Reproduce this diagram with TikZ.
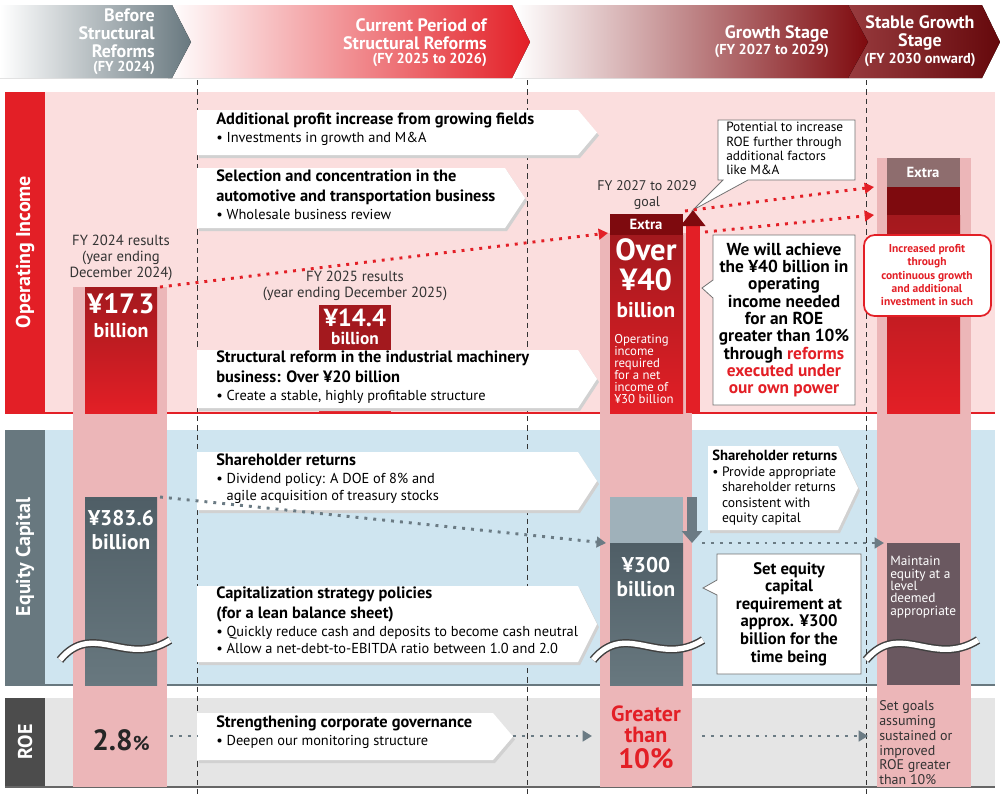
\documentclass[tikz,border=0pt]{standalone}
\usepackage{fontspec}
\setmainfont{PT Sans}
\usetikzlibrary{arrows.meta,calc}
\definecolor{cred}{HTML}{E31F26}
\definecolor{cdark}{HTML}{A3191E}
\definecolor{cextra}{HTML}{7E0A0E}
\definecolor{cpinkbg}{HTML}{FBDEDE}
\definecolor{ccol}{HTML}{ECB6B8}
\definecolor{cblue}{HTML}{CFE5F0}
\definecolor{cslate}{HTML}{4F5E66}
\definecolor{cslate2}{HTML}{68787F}
\definecolor{clight}{HTML}{9FB1BA}
\definecolor{cmauve}{HTML}{6A5860}
\definecolor{carr}{HTML}{6B7B84}
\newcommand\bxttl{\bfseries\fontsize{12.3}{13.5}\selectfont}
\newcommand\bxsub{\mdseries\fontsize{10.8}{12}\selectfont}
\newcommand\tagbox[5]{% x1 y1 x2 y2 tip
  \fill[black!18] (#1+2,#2+3) -- (#3+2,#2+3) -- (#3+#5+2,{(#2+#4)/2+3}) -- (#3+2,#4+3) -- (#1+2,#4+3) -- cycle;
  \fill[white] (#1,#2) -- (#3,#2) -- (#3+#5,{(#2+#4)/2}) -- (#3,#4) -- (#1,#4) -- cycle;}
\begin{document}
\begin{tikzpicture}[x=0.75pt,y=-0.75pt,
  every node/.style={inner sep=0,align=left},
  hd/.style={text=white,font=\bfseries\fontsize{13.5}{13.5}\selectfont,align=right},
  hds/.style={font=\bfseries\fontsize{10.8}{11}\selectfont},
  big/.style={text=white,font=\bfseries\fontsize{14}{14}\selectfont,align=center},
  side/.style={text=white,rotate=90,font=\bfseries\fontsize{15}{15}\selectfont},
  note/.style={draw=black!55,fill=white,line width=.6pt},
  dotr/.style={cred,line width=2.2pt,dash pattern=on 2.2pt off 4.5pt,-{Triangle[length=7pt,width=8pt]}},
  dotg/.style={carr,line width=2.2pt,dash pattern=on 2.2pt off 4.5pt,-{Triangle[length=7pt,width=8pt]}},
  wave/.style={draw=black!75,line width=1.1pt,double=white,double distance=4pt}]
\useasboundingbox (0,0) rectangle (1000,794);
% header
\fill[left color=cextra!80!white,right color=cextra!80!black] (848,5) -- (982,5) -- (1000,42) -- (982,78) -- (848,78) -- (866,42) -- cycle;
\fill[left color=white,right color=cextra] (515,5) -- (848,5) -- (868,42) -- (848,78) -- (515,78) -- cycle;
\fill[left color=white,right color=cred] (168,5) -- (512,5) -- (530,42) -- (512,78) -- (168,78) -- cycle;
\fill[left color=white,right color=cslate2] (0,5) -- (172,5) -- (191,42) -- (172,78) -- (0,78) -- cycle;
\node[hd,anchor=east] (h1) at (155,33) {Before\\Structural\\Reforms};
\node[hds,text=white,anchor=east] (h1s) at (155,68) {(FY 2024)};
\node[hd,anchor=east] (h2) at (487,34) {Current Period of\\Structural Reforms};
\node[hds,text=white,anchor=east] (h2s) at (487,60) {(FY 2025 to 2026)};
\node[hd,anchor=east] (h3) at (829,34) {Growth Stage};
\node[hds,text=white,anchor=east] (h3s) at (829,51) {(FY 2027 to 2029)};
\node[hd,align=center] (h4) at (920,33) {Stable Growth\\Stage};
\node[hds,text=white] (h4s) at (920,60) {(FY 2030 onward)};
% bands
\fill[cpinkbg] (45,92) rectangle (995,413);
\fill[cred] (5,92) rectangle (45,413);
\draw[cred,line width=1.5pt] (5,413) -- (995,413);
\fill[cblue] (45,430) rectangle (995,685);
\fill[cslate2] (5,430) rectangle (45,685);
\draw[cslate2,line width=1.5pt] (5,685) -- (995,685);
\fill[black!10] (45,698) rectangle (995,787);
\fill[black!70] (5,698) rectangle (45,787);
\draw[black!60,line width=1.5pt] (5,787) -- (995,787);
\node[side] (lop) at (25,252) {Operating Income};
\node[side] (leq) at (25,557) {Equity Capital};
\node[side] (lroe) at (25,742) {ROE};
% columns
\fill[ccol] (73,287) rectangle (167,787);
\fill[ccol] (600,233) rectangle (692,787);
\fill[ccol] (877,158) rectangle (971,787);
\foreach \x in {197,527,866} \draw[black!80,dash pattern=on 4pt off 3pt,line width=.5pt] (\x,80) -- (\x,794);
% bars
\fill[top color=cdark,bottom color=cred] (85,287) rectangle (157,413);
\fill[cred] (319,350) rectangle (391,413);
\fill[cdark] (319,305) rectangle (391,350);
\fill[cextra] (610,214) rectangle (683,235);
\fill[top color=cdark,bottom color=cred] (610,235) rectangle (683,413);
\fill[black!40!ccol] (887,158) rectangle (960,187);
\fill[cextra] (887,187) rectangle (960,215);
\fill[top color=cdark,bottom color=cred] (887,215) rectangle (960,413);
\fill[top color=cslate,bottom color=cslate2] (85,497) rectangle (157,685);
\fill[clight] (610,497) rectangle (683,543);
\fill[top color=cslate,bottom color=cslate2] (610,543) rectangle (683,685);
\fill[cmauve] (887,543) rectangle (960,685);
\foreach \x/\w in {60/110,593/110,866/112}
  \draw[wave] (\x,660) .. controls (\x+0.3*\w,620) and (\x+0.6*\w,668) .. (\x+\w,640);
\coordinate (b17) at (160,287);
\coordinate (g40) at (608,233);
\coordinate (gx) at (685,211);
\coordinate (gx2) at (705,232);
\coordinate (sx1) at (874,187);
\coordinate (sx2) at (874,215);
\coordinate (e38) at (160,497);
\coordinate (e30) at (606,543);
\coordinate (e30r) at (702,543);
\coordinate (es) at (884,543);
% red up arrow and grey down arrow
\draw[cred,line width=10pt,-{Triangle[length=12pt,width=18pt,color=cextra]}] (693,413) -- (693,210);
\draw[carr,line width=7pt,-{Triangle[length=9pt,width=15pt]}] (692,497) -- (692,543);
% bar labels
\node[text=black!80,font=\fontsize{11}{12}\selectfont,align=center] (t24) at (121,258) {FY 2024 results\\(year ending\\December 2024)};
\node[big,font=\bfseries\fontsize{21}{20}\selectfont] (v17) at (121,316) {¥17.3\\[-2pt]{\fontsize{15}{15}\selectfont billion}};
\node[text=black!80,font=\fontsize{11}{12}\selectfont,align=center] (t25) at (355,286) {FY 2025 results\\(year ending December 2025)};
\node[big,font=\bfseries\fontsize{18.5}{13.5}\selectfont] (v14) at (355,327) {¥14.4\\{\fontsize{13}{13}\selectfont billion}};
\node[text=black!80,font=\fontsize{10.5}{11.5}\selectfont,align=center] (t27) at (647,195) {FY 2027 to 2029\\goal};
\node[text=white,font=\bfseries\fontsize{11}{11}\selectfont] (ex1) at (646,224) {Extra};
\node[big,font=\bfseries\fontsize{23}{23}\selectfont] (v40) at (646,278) {Over\\¥40\\[-3pt]{\fontsize{16}{16}\selectfont billion}};
\node[text=white,font=\fontsize{9.6}{9}\selectfont,anchor=north west] (r30) at (614,334) {Operating\\income\\required\\for a net\\income of\\¥30 billion};
\node[text=white,font=\bfseries\fontsize{11}{11}\selectfont] (ex2) at (923,172) {Extra};
\node[big,font=\bfseries\fontsize{16}{18}\selectfont] (v38) at (121,530) {¥383.6\\billion};
\node[big,font=\bfseries\fontsize{16}{18}\selectfont] (v30) at (646,577) {¥300\\billion};
\node[text=white,font=\fontsize{10}{9.3}\selectfont,anchor=north west] (eq) at (890,556) {Maintain\\equity at a\\level\\deemed\\appropriate};
\node[text=black!85,font=\bfseries\fontsize{22}{22}\selectfont] (r28) at (121,740) {2.8{\fontsize{15}{15}\selectfont\%}};
\node[text=cred,font=\bfseries\fontsize{16.5}{15.5}\selectfont,align=center] (r10) at (646,737) {Greater\\than\\[4pt]{\fontsize{21}{21}\selectfont 10\%}};
\node[text=black!80,font=\fontsize{10.5}{11.2}\selectfont,anchor=north west] (rg) at (879,700) {Set goals\\assuming\\sustained or\\improved\\ROE greater\\than 10\%};
% tag boxes
\tagbox{197}{110}{578}{155}{19}
\tagbox{197}{168}{505}{228}{20}
\tagbox{197}{350}{578}{408}{19}
\tagbox{197}{452}{578}{510}{19}
\tagbox{197}{586}{578}{662}{19}
\tagbox{197}{713}{493}{760}{20}
\tagbox{708}{446}{838}{530}{20}
\node[anchor=north west] (a1) at (216,113) {\begin{tabular}{@{}l@{}}\bxttl Additional profit increase from growing fields\\[1pt]\bxsub • Investments in growth and M\&A\end{tabular}};
\node[anchor=north west] (a2) at (216,170) {\begin{tabular}{@{}l@{}}\bxttl Selection and concentration in the\\[2.5pt]\bxttl automotive and transportation business\\[1pt]\bxsub • Wholesale business review\end{tabular}};
\node[anchor=north west] (a3) at (216,351) {\begin{tabular}{@{}l@{}}\bxttl Structural reform in the industrial machinery\\[2.5pt]\bxttl business: Over ¥20 billion\\[1pt]\bxsub • Create a stable, highly profitable structure\end{tabular}};
\node[anchor=north west] (a4) at (216,454) {\begin{tabular}{@{}l@{}}\bxttl Shareholder returns\\[1pt]\bxsub • Dividend policy: A DOE of 8\% and\\[1pt]\bxsub \phantom{• }agile acquisition of treasury stocks\end{tabular}};
\node[anchor=north west] (a5) at (216,587) {\begin{tabular}{@{}l@{}}\bxttl Capitalization strategy policies\\[2.5pt]\bxttl (for a lean balance sheet)\\[1pt]\bxsub • Quickly reduce cash and deposits to become cash neutral\\[1pt]\bxsub • Allow a net-debt-to-EBITDA ratio between 1.0 and 2.0\end{tabular}};
\node[anchor=north west] (a6) at (216,716) {\begin{tabular}{@{}l@{}}\bxttl Strengthening corporate governance\\[1pt]\bxsub • Deepen our monitoring structure\end{tabular}};
\node[anchor=north west] (a7) at (712,449) {\begin{tabular}{@{}l@{}}{\bfseries\fontsize{11}{12}\selectfont Shareholder returns}\\[0pt]{\fontsize{10.2}{11}\selectfont • Provide appropriate}\\[-0.5pt]{\fontsize{10.2}{11}\selectfont\phantom{• }shareholder returns}\\[-0.5pt]{\fontsize{10.2}{11}\selectfont\phantom{• }consistent with}\\[-0.5pt]{\fontsize{10.2}{11}\selectfont\phantom{• }equity capital}\end{tabular}};
% callouts
\draw[note] (718,120) -- (855,120) -- (855,180) -- (748,180) -- (693,210) -- (723,180) -- (718,180) -- cycle;
\node[font=\fontsize{10}{10.8}\selectfont,anchor=north west] (pot) at (726,122) {Potential to increase\\ROE further through\\additional factors\\like M\&A};
\draw[note] (713,235) -- (855,235) -- (855,405) -- (713,405) -- (713,298) -- (702,288) -- (713,280) -- cycle;
\node[font=\bfseries\fontsize{13}{13}\selectfont,align=center] (wa) at (784,320) {We will achieve\\the ¥40 billion in\\operating\\income needed\\for an ROE\\greater than 10\%\\through {\color{cred}reforms}\\{\color{cred}executed under}\\{\color{cred}our own power}};
\draw[note] (717,554) -- (861,554) -- (861,674) -- (717,674) -- (717,595) -- (703,588) -- (717,580) -- cycle;
\node[font=\bfseries\fontsize{12.5}{13.2}\selectfont,align=center] (se) at (789,614) {Set equity\\capital\\requirement at\\approx. ¥300\\billion for the\\time being};
\draw[cred,fill=white,line width=1.3pt,rounded corners=8pt] (864,235) rectangle (991,316);
\node[text=cred,font=\bfseries\fontsize{8.6}{9.8}\selectfont,align=center] (ip) at (927,275) {Increased profit\\through\\continuous growth\\and additional\\investment in such};
% connectors
\draw[dotr] (b17) -- (g40);
\draw[dotr] (gx) -- (sx1);
\draw[dotr] (gx2) -- (sx2);
\draw[dotg] (e38) -- (e30);
\draw[dotg] (e30r) -- (es);
\coordinate (r1) at (170,736);
\coordinate (r2) at (197,736);
\coordinate (r3) at (513,736);
\coordinate (r4) at (592,736);
\coordinate (r5) at (702,736);
\coordinate (r6) at (868,736);
\draw[carr,line width=2.2pt,dash pattern=on 2.2pt off 4.5pt] (r1) -- (r2);
\draw[dotg] (r3) -- (r4);
\draw[dotg] (r5) -- (r6);
\end{tikzpicture}
\end{document}
